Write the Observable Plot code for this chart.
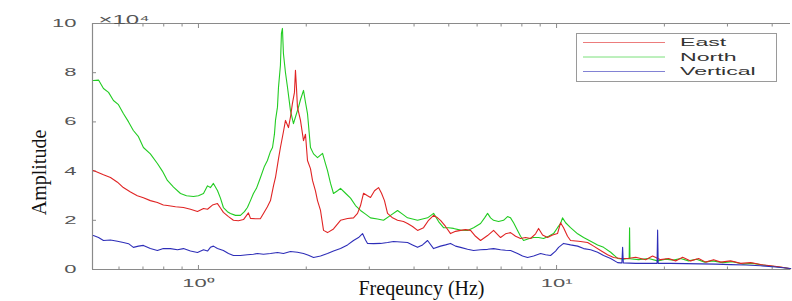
<!DOCTYPE html>
<html><head><meta charset="utf-8">
<script src="https://cdn.jsdelivr.net/npm/d3@7"></script>
<script src="https://cdn.jsdelivr.net/npm/@observablehq/plot@0.6"></script>
<style>
body{margin:0;background:#fff;}
#wrap{position:relative;width:792px;height:301px;overflow:hidden;}
#legend{position:absolute;left:576px;top:33px;}
</style></head><body><div id="wrap"></div>
<script>
const seriesNames = ["East", "North", "Vertical"];
const seriesColors = ["#e02424", "#22cc22", "#2e2eb8"];
const xDomain = [0.506, 45];
const yDomain = [0, 10];
const yTicks = [0, 2, 4, 6, 8, 10];
const xMajorTicks = [1, 10];
const xTickLabels = ["10⁰", "10¹"];
const xMinorTicks = [0.6, 0.7, 0.8, 0.9, 2, 3, 4, 5, 6, 7, 8, 9, 20, 30, 40];
const yExponentLabel = "×10⁴";
const xLabel = "Freqeuncy (Hz)";
const yLabel = "Amplitude";

const eastFreq = [0.509,0.543,0.568,0.594,0.617,0.646,0.675,0.702,0.734,0.768,
  0.798,0.819,0.863,0.908,0.950,0.994,1.033,1.060,1.094,1.130,
  1.152,1.174,1.213,1.252,1.293,1.336,1.379,1.397,1.443,1.490,
  1.519,1.558,1.589,1.620,1.641,1.673,1.694,1.727,1.750,1.784,
  1.807,1.830,1.854,1.866,1.878,1.890,1.927,1.965,1.990,2.016,
  2.055,2.082,2.122,2.150,2.192,2.235,2.293,2.383,2.493,2.608,
  2.710,2.781,2.835,2.891,2.966,3.023,3.102,3.183,3.245,3.307,
  3.373,3.483,3.597,3.738,3.836,3.961,4.091,4.252,4.391,4.535,
  4.653,4.742,4.897,5.057,5.223,5.394,5.570,5.752,5.939,6.134,
  6.417,6.669,6.976,7.203,7.439,7.683,7.933,8.193,8.461,8.737,
  8.907,9.140,9.438,9.746,10.06,10.26,10.46,10.73,10.94,11.52,
  12.21,12.69,13.27,13.88,14.43,15.09,15.79,16.63,17.73,18.54,
  19.52,20.55,21.50,22.49,23.68,24.93,26.08,27.45,28.72,30.62,
  32.66,34.83,37.14,39.61,42.24,45.04];
const eastAmp = [4.02,3.85,3.74,3.55,3.33,3.15,3.0,2.92,2.8,2.72,
  2.62,2.6,2.55,2.52,2.45,2.36,2.48,2.45,2.62,2.68,
  2.5,2.32,2.15,2.0,1.98,2.03,2.3,2.08,2.06,2.07,
  2.28,2.55,2.8,3.4,3.74,4.5,4.96,5.6,6.06,5.77,
  6.2,6.75,7.2,8.1,7.4,6.6,6.06,5.24,5.5,4.43,
  4.1,3.62,3.2,2.8,2.4,1.59,1.5,1.65,2.0,2.07,
  2.1,2.28,2.6,3.1,3.0,2.93,3.2,3.33,3.1,2.8,
  2.28,2.1,2.0,1.95,1.87,1.75,1.59,1.7,2.0,2.2,
  2.1,2.0,1.75,1.46,1.55,1.59,1.62,1.59,1.35,1.18,
  1.38,1.59,1.3,1.45,1.5,1.35,1.26,1.3,1.26,1.45,
  1.67,1.4,1.3,1.4,1.46,1.9,1.7,1.35,1.18,1.15,
  1.1,0.95,0.77,0.6,0.49,0.45,0.45,0.5,0.4,0.55,
  0.4,0.45,0.35,0.5,0.35,0.45,0.3,0.4,0.3,0.35,
  0.25,0.28,0.2,0.15,0.1,0.03];

const northFreq = [0.509,0.526,0.543,0.561,0.579,0.598,0.617,0.638,0.658,0.680,
  0.702,0.734,0.768,0.793,0.819,0.852,0.891,0.926,0.968,1.0,
  1.033,1.060,1.080,1.101,1.130,1.152,1.174,1.205,1.228,1.269,
  1.310,1.344,1.370,1.397,1.424,1.452,1.490,1.529,1.558,1.589,
  1.610,1.630,1.641,1.662,1.673,1.694,1.705,1.716,1.727,1.750,
  1.773,1.807,1.842,1.866,1.902,1.927,1.965,1.990,2.016,2.055,
  2.096,2.150,2.221,2.263,2.293,2.338,2.383,2.445,2.493,2.574,
  2.659,2.745,2.835,2.928,3.023,3.162,3.287,3.439,3.597,3.714,
  3.836,3.961,4.091,4.224,4.363,4.535,4.683,4.835,4.992,5.156,
  5.394,5.642,5.864,6.134,6.295,6.417,6.542,6.669,6.887,7.112,
  7.297,7.439,7.585,7.781,7.933,8.088,8.353,8.626,8.907,9.199,
  9.500,9.809,10.06,10.26,10.39,10.60,10.94,11.45,11.90,12.45,
  13.02,13.53,14.16,14.81,15.39,15.79,15.95,15.99,16.03,16.95,
  18.07,19.15,20.16,21.22,22.20,23.37,24.60,25.91,27.28,29.09,
  31.01,33.08,35.28,37.62,40.12,42.79,45.04];
const northAmp = [7.68,7.7,7.36,7.2,6.87,6.7,6.34,6.0,5.65,5.4,
  4.96,4.7,4.31,4.0,3.62,3.35,3.09,3.0,2.97,3.0,
  3.09,3.4,3.33,3.5,3.21,2.9,2.52,2.35,2.28,2.2,
  2.2,2.35,2.52,2.8,3.09,3.3,3.74,4.2,4.43,4.8,
  4.96,5.5,6.06,6.6,7.4,8.3,9.6,9.8,8.78,8.0,
  7.4,6.46,5.93,6.2,6.59,6.9,7.28,6.8,6.34,4.96,
  4.7,4.55,4.72,4.3,4.02,3.5,3.09,3.2,3.3,3.1,
  2.9,2.6,2.4,2.25,2.1,2.05,2.0,2.2,2.4,2.25,
  2.1,2.05,2.0,2.05,2.1,2.28,1.95,1.7,1.7,1.67,
  1.6,1.59,1.7,1.87,2.1,2.28,2.1,2.0,1.95,2.0,
  2.15,2.1,1.9,1.59,1.35,1.18,1.25,1.3,1.3,1.26,
  1.35,1.46,1.7,1.87,2.1,1.9,1.7,1.45,1.3,1.15,
  1.0,0.9,0.7,0.45,0.42,0.45,0.44,1.7,0.44,0.4,
  0.45,0.35,0.42,0.38,0.45,0.35,0.42,0.3,0.35,0.28,
  0.32,0.22,0.25,0.18,0.13,0.08,0.03];

const vertFreq = [0.509,0.526,0.543,0.568,0.594,0.617,0.638,0.658,0.680,0.702,
  0.734,0.768,0.798,0.835,0.874,0.908,0.950,0.994,1.033,1.060,
  1.080,1.101,1.130,1.174,1.213,1.252,1.310,1.370,1.424,1.461,
  1.519,1.589,1.662,1.727,1.807,1.890,1.965,2.029,2.096,2.192,
  2.293,2.383,2.493,2.608,2.710,2.799,2.872,2.928,2.966,3.083,
  3.224,3.373,3.506,3.667,3.836,3.961,4.091,4.224,4.363,4.535,
  4.742,4.897,5.057,5.223,5.394,5.642,5.864,6.134,6.417,6.669,
  6.976,7.203,7.439,7.781,8.035,8.299,8.626,9.023,9.318,9.622,
  9.936,10.13,10.46,10.94,11.45,11.90,12.45,13.02,13.53,14.16,
  14.81,15.09,15.22,15.29,15.36,16.63,17.73,18.90,19.08,19.15,
  19.22,20.82,22.93,25.25,27.81,30.62,33.73,37.14,40.90,45.04];
const vertAmp = [1.38,1.3,1.18,1.2,1.15,1.1,1.05,0.9,0.95,0.98,
  0.85,0.77,0.85,0.85,0.8,0.85,0.75,0.69,0.8,0.75,
  0.9,0.95,0.85,0.77,0.65,0.57,0.57,0.6,0.62,0.65,
  0.62,0.65,0.69,0.65,0.73,0.7,0.65,0.58,0.49,0.55,
  0.65,0.75,0.85,1.0,1.18,1.3,1.46,1.2,1.06,1.05,
  1.06,1.1,1.14,1.12,1.1,1.0,0.9,1.0,1.18,0.85,
  0.95,1.0,1.06,0.95,0.9,0.82,0.77,0.8,0.82,0.85,
  0.8,0.78,0.77,0.65,0.55,0.49,0.55,0.65,0.6,0.57,
  0.75,0.9,1.06,1.0,0.95,0.85,0.8,0.7,0.57,0.45,
  0.28,0.27,0.27,0.9,0.27,0.25,0.25,0.25,0.25,1.6,
  0.25,0.25,0.24,0.23,0.22,0.2,0.18,0.15,0.1,0.04];

const toRows = (name, fs, as) => fs.map((f, i) => ({series: name, f, a: as[i]}));
const east = toRows("East", eastFreq, eastAmp);
const north = toRows("North", northFreq, northAmp);
const vert = toRows("Vertical", vertFreq, vertAmp);

const axisColor = "#8a8a8a";
const tickFont = "'Liberation Sans', Arial, sans-serif";
const serif = "'Liberation Serif', 'Times New Roman', serif";

const plot = Plot.plot({
  width: 792, height: 301,
  marginLeft: 92, marginRight: 2, marginTop: 23, marginBottom: 32,
  x: {type: "log", domain: xDomain, label: null},
  y: {domain: yDomain, label: null},
  color: {domain: seriesNames, range: seriesColors},
  style: {background: "#fff", fontFamily: tickFont, fontSize: "11px", color: "#555"},
  marks: [
    Plot.ruleX([xDomain[0]], {stroke: axisColor, strokeWidth: 1.2}),
    Plot.ruleY([yDomain[0]], {stroke: axisColor, strokeWidth: 1.2}),
    Plot.ruleY([yDomain[1]], {stroke: axisColor, strokeWidth: 1}),
    Plot.axisY({ticks: yTicks, label: null, tickSize: -4, tickPadding: 20, tickFormat: d => String(d), stroke: axisColor, fill: "#555"}),
    Plot.axisX({ticks: xMajorTicks, label: null, tickSize: -4, tickPadding: 14, tickFormat: d => xTickLabels[xMajorTicks.indexOf(d)], stroke: axisColor, fill: "#555"}),
    Plot.axisX({ticks: xMinorTicks, label: null, tickSize: -2.5, tickFormat: () => "", stroke: axisColor}),
    Plot.axisX({anchor: "top", label: null, ticks: xMajorTicks, tickSize: -4, tickFormat: () => "", stroke: axisColor}),
    Plot.axisX({anchor: "top", label: null, ticks: xMinorTicks, tickSize: -2.5, tickFormat: () => "", stroke: axisColor}),
    Plot.line(north, {x: "f", y: "a", stroke: "series", strokeWidth: 1.1}),
    Plot.line(east, {x: "f", y: "a", stroke: "series", strokeWidth: 1.1}),
    Plot.line(vert, {x: "f", y: "a", stroke: "series", strokeWidth: 1.1}),
    Plot.text([yExponentLabel], {frameAnchor: "top-left", textAnchor: "start", lineAnchor: "bottom", dx: 6, dy: 0, fill: "#555", fontSize: 12}),
    Plot.text([yLabel], {frameAnchor: "left", textAnchor: "middle", lineAnchor: "middle", rotate: -90, dx: -53, dy: 26, fontFamily: serif, fontSize: 20, fill: "#111"}),
    Plot.text([xLabel], {frameAnchor: "bottom", textAnchor: "middle", dx: -20, dy: 19, lineAnchor: "middle", fontFamily: serif, fontSize: 20, fill: "#111"})
  ]
});

const wrap = document.getElementById("wrap");
wrap.appendChild(plot);

const stretch = 2.0;
const stretchText = function() {
  const w = this.getComputedTextLength();
  if (w > 0) {
    this.setAttribute("textLength", w * stretch);
    this.setAttribute("lengthAdjust", "spacingAndGlyphs");
  }
};
d3.select(plot).selectAll('g[aria-label="x-axis tick label"] text, g[aria-label="y-axis tick label"] text').each(stretchText);
d3.select(plot).selectAll("text").filter(function() { return this.textContent === yExponentLabel; }).each(stretchText);

// legend
const lg = d3.select(wrap).append("svg").attr("id", "legend").attr("width", 202).attr("height", 50);
lg.append("rect").attr("x", 0.5).attr("y", 0.5).attr("width", 200).attr("height", 48)
  .attr("fill", "#fff").attr("stroke", "#9a9a9a");
seriesNames.forEach((name, i) => {
  const y = 9.5 + i * 14.5;
  lg.append("line").attr("x1", 7).attr("x2", 89).attr("y1", y).attr("y2", y)
    .attr("stroke", seriesColors[i]).attr("stroke-width", 1).attr("stroke-opacity", 0.6);
  const t = lg.append("text").attr("x", 104).attr("y", y).attr("dy", "0.35em")
    .attr("font-family", tickFont).attr("font-size", 11).attr("fill", "#333").text(name);
  const w = t.node().getComputedTextLength();
  t.attr("textLength", w * 2.1).attr("lengthAdjust", "spacingAndGlyphs");
});
</script></body></html>
